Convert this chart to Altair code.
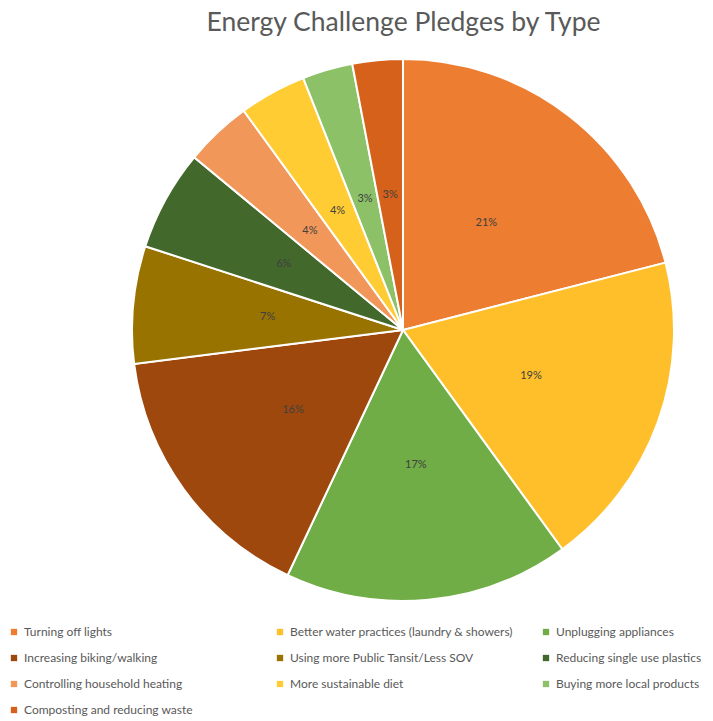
import altair as alt
import pandas as pd

categories = [
    "Turning off lights",
    "Better water practices (laundry & showers)",
    "Unplugging appliances",
    "Increasing biking/walking",
    "Using more Public Tansit/Less SOV",
    "Reducing single use plastics",
    "Controlling household heating",
    "More sustainable diet",
    "Buying more local products",
    "Composting and reducing waste",
]
percents = [21, 19, 17, 16, 7, 6, 4, 4, 3, 3]
colors = ["#ED7D31", "#FFBF2A", "#70AD47", "#9E480E", "#997300",
          "#43682B", "#F1975A", "#FFCD33", "#8CC168", "#D6611B"]

# domain order chosen so the 3-column legend reads row by row
legend_order = [0, 3, 6, 8, 1, 4, 7, 9, 2, 5]
legend_domain = [categories[i] for i in legend_order]
legend_range = [colors[i] for i in legend_order]

df = pd.DataFrame({
    "category": categories,
    "value": percents,
    "order": list(range(len(categories))),
    "label": [f"{p}%" for p in percents],
})

color = alt.Color(
    "category:N",
    scale=alt.Scale(domain=legend_domain, range=legend_range),
    sort=legend_domain,
    legend=alt.Legend(
        title=None, orient="none", legendX=8, legendY=576,
        columns=3, gridAlign="all", columnPadding=26, rowPadding=14,
        symbolType="square", symbolSize=40, symbolStrokeWidth=0,
        labelFont="Lato", labelFontSize=12, labelColor="#595959",
        labelLimit=400, symbolOffset=0,
    ),
)

base = alt.Chart(df).encode(
    theta=alt.Theta("value:Q", stack=True),
    order=alt.Order("order:Q"),
)

arcs = base.mark_arc(radius=271, stroke="white", strokeWidth=2).encode(
    color=color,
    x=alt.value(403), y=alt.value(280),
)

labels = base.mark_text(radius=136, font="Lato", fontSize=11, color="#404040").encode(
    text="label:N",
    x=alt.value(403), y=alt.value(280),
)

chart = (arcs + labels).properties(
    width=713, height=671,
    autosize=alt.AutoSizeParams(type="none"),
    padding={"top": 50, "left": 0, "right": 0, "bottom": 0},
    title=alt.TitleParams(
        "Energy Challenge Pledges by Type", font="Lato", fontSize=26.5,
        fontWeight="normal", color="#595959", anchor="middle", dx=47, offset=14,
    ),
).configure_view(stroke=None)

chart.save("out.html", embed_options={"renderer": "svg", "actions": False})
